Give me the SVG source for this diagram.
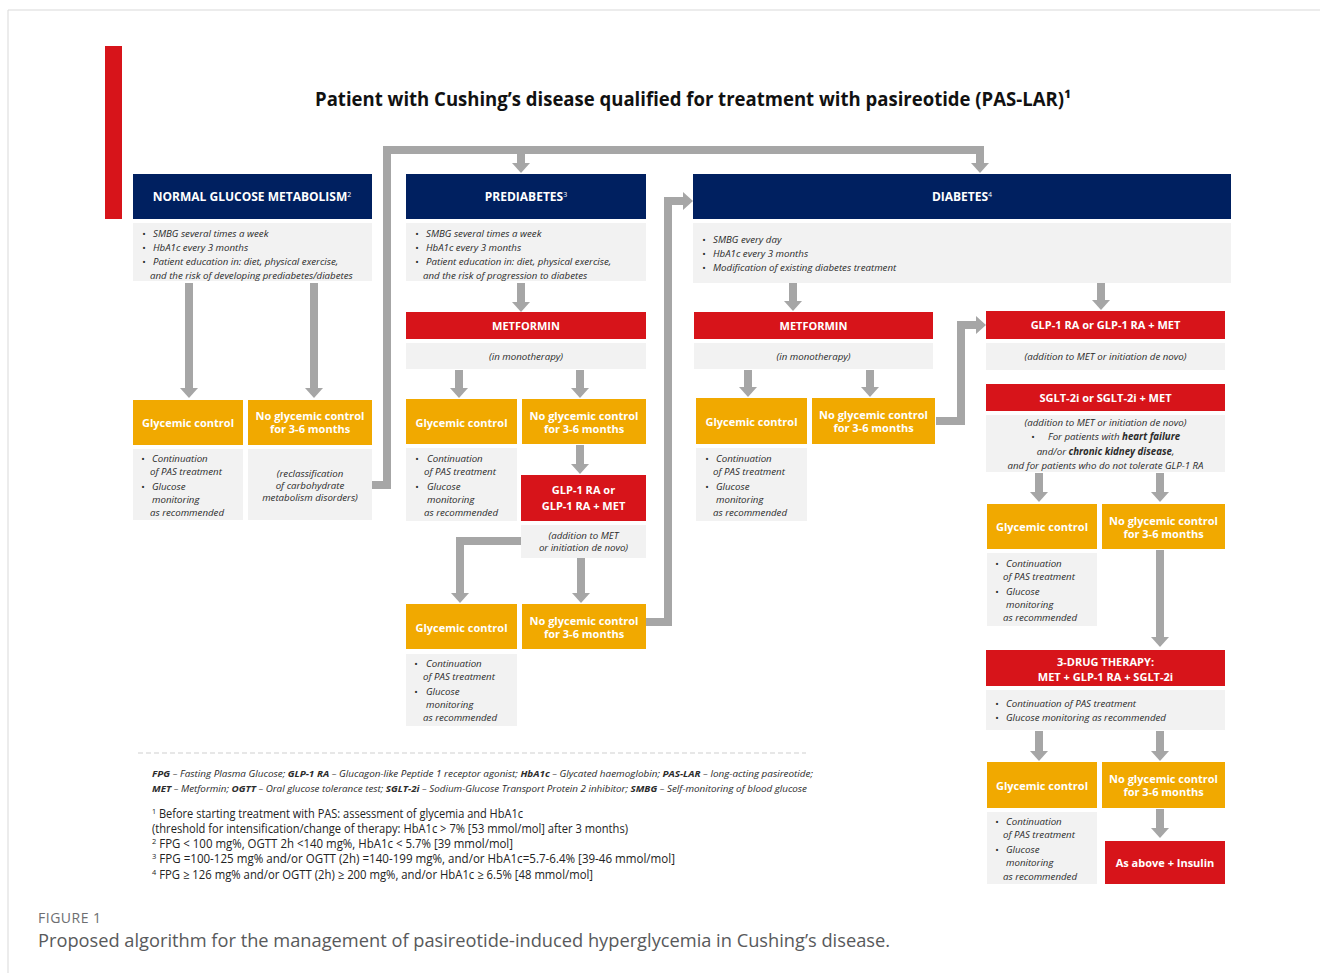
<svg xmlns="http://www.w3.org/2000/svg" width="1320" height="973" viewBox="0 0 1320 973">
  <style>
    .hdr { fill: #002060; }
    .red { fill: #d7141a; }
    .org { fill: #f1a900; }
    .gry { fill: #f2f2f2; }
    .conn { fill: none; stroke: #a6a6a6; stroke-width: 8; stroke-linejoin: miter; }
    text { font-family: "Open Sans", "Noto Sans", "Liberation Sans", sans-serif; }
    .th { font-size: 12px; font-weight: 700; fill: #ffffff; text-anchor: middle; }
    .sup { font-size: 7px; font-weight: 400; }
    .tb { font-size: 11px; font-weight: 700; fill: #ffffff; text-anchor: middle; }
    .it { font-size: 9.7px; font-style: italic; fill: #2b2b2b; }
    .itc { font-size: 9.7px; font-style: italic; fill: #2b2b2b; text-anchor: middle; }
    .b { font-weight: 700; }
    .ab { font-size: 9.6px; font-style: italic; fill: #2b2b2b; }
    .fn { font-size: 12.3px; fill: #222222; }
    .fs { font-size: 8px; }
  </style>
  <defs>
    <marker id="ah" markerUnits="userSpaceOnUse" viewBox="0 0 10 18" refX="0" refY="9" markerWidth="10" markerHeight="18" orient="auto">
      <path d="M0,0 L10,9 L0,18 Z" fill="#a6a6a6"/>
    </marker>
  </defs>

  <!-- page frame and accent bar -->
  <path d="M8,973 V10 H1320" fill="none" stroke="#d9d9d9" stroke-width="1"/>
  <rect x="105" y="46" width="17" height="173" fill="#d7141a"/>

  <!-- title -->
  <g id="title">
    <text x="315" y="106" font-size="19" font-weight="700" fill="#111111" textLength="756" lengthAdjust="spacingAndGlyphs">Patient with Cushing’s disease qualified for treatment with pasireotide (PAS-LAR)¹</text>
  </g>

  <!-- connectors -->
  <g id="connectors">
    <path class="conn" d="M189,283 V388" marker-end="url(#ah)"/>
    <path class="conn" d="M314,283 V388" marker-end="url(#ah)"/>
    <path class="conn" d="M370,485 H387 V150 H980 V163" marker-end="url(#ah)"/>
    <path class="conn" d="M521,150 V163" marker-end="url(#ah)"/>
    <path class="conn" d="M521,283 V302" marker-end="url(#ah)"/>
    <path class="conn" d="M459,370 V388" marker-end="url(#ah)"/>
    <path class="conn" d="M580,370 V388" marker-end="url(#ah)"/>
    <path class="conn" d="M580,445 V464" marker-end="url(#ah)"/>
    <path class="conn" d="M521,541 H460 V593" marker-end="url(#ah)"/>
    <path class="conn" d="M581,558 V593" marker-end="url(#ah)"/>
    <path class="conn" d="M646,622 H668 V201 H683" marker-end="url(#ah)"/>
    <path class="conn" d="M793,283 V301" marker-end="url(#ah)"/>
    <path class="conn" d="M748,370 V387" marker-end="url(#ah)"/>
    <path class="conn" d="M870,370 V387" marker-end="url(#ah)"/>
    <path class="conn" d="M936,421 H961 V325 H976" marker-end="url(#ah)"/>
    <path class="conn" d="M1101,283 V300" marker-end="url(#ah)"/>
    <path class="conn" d="M1039,473 V492" marker-end="url(#ah)"/>
    <path class="conn" d="M1160,473 V492" marker-end="url(#ah)"/>
    <path class="conn" d="M1160,550 V637" marker-end="url(#ah)"/>
    <path class="conn" d="M1039,731 V751" marker-end="url(#ah)"/>
    <path class="conn" d="M1160,731 V751" marker-end="url(#ah)"/>
    <path class="conn" d="M1160,809 V828" marker-end="url(#ah)"/>
  </g>

  <!-- column 1: normal glucose metabolism -->
  <g id="normal-header">
    <rect class="hdr" x="133" y="174" width="239" height="45"/>
    <text class="th" x="252" y="201">NORMAL GLUCOSE METABOLISM<tspan class="sup" dy="-4">2</tspan></text>
  </g>
  <g id="normal-info">
    <rect class="gry" x="133" y="223" width="239" height="58"/>
    <text class="it" x="142" y="237">•</text><text class="it" x="153" y="237">SMBG several times a week</text>
    <text class="it" x="142" y="251">•</text><text class="it" x="153" y="251">HbA1c every 3 months</text>
    <text class="it" x="142" y="265">•</text><text class="it" x="153" y="265">Patient education in: diet, physical exercise,</text>
    <text class="it" x="150" y="279">and the risk of developing prediabetes/diabetes</text>
  </g>
  <g id="normal-control">
    <rect class="org" x="133" y="400" width="110" height="45"/>
    <text class="tb" x="188" y="427">Glycemic control</text>
  </g>
  <g id="normal-control-note">
    <rect class="gry" x="133" y="449" width="110" height="71"/>
    <text class="it" x="141" y="462">•</text><text class="it" x="152" y="462">Continuation</text>
    <text class="it" x="150" y="475">of PAS treatment</text>
    <text class="it" x="141" y="490">•</text><text class="it" x="152" y="490">Glucose</text>
    <text class="it" x="152" y="503">monitoring</text>
    <text class="it" x="150" y="516">as recommended</text>
  </g>
  <g id="normal-nocontrol">
    <rect class="org" x="248" y="400" width="124" height="45"/>
    <text class="tb" x="310" y="420">No glycemic control</text>
    <text class="tb" x="310" y="433">for 3-6 months</text>
  </g>
  <g id="normal-nocontrol-note">
    <rect class="gry" x="248" y="449" width="124" height="71"/>
    <text class="itc" x="310" y="477">(reclassification</text>
    <text class="itc" x="310" y="489">of carbohydrate</text>
    <text class="itc" x="310" y="501">metabolism disorders)</text>
  </g>

  <!-- column 2: prediabetes -->
  <g id="pre-header">
    <rect class="hdr" x="406" y="174" width="240" height="45"/>
    <text class="th" x="526" y="201">PREDIABETES<tspan class="sup" dy="-4">3</tspan></text>
  </g>
  <g id="pre-info">
    <rect class="gry" x="406" y="223" width="240" height="58"/>
    <text class="it" x="415" y="237">•</text><text class="it" x="426" y="237">SMBG several times a week</text>
    <text class="it" x="415" y="251">•</text><text class="it" x="426" y="251">HbA1c every 3 months</text>
    <text class="it" x="415" y="265">•</text><text class="it" x="426" y="265">Patient education in: diet, physical exercise,</text>
    <text class="it" x="423" y="279">and the risk of progression to diabetes</text>
  </g>
  <g id="pre-metformin">
    <rect class="red" x="406" y="312" width="240" height="27"/>
    <text class="tb" x="526" y="330">METFORMIN</text>
  </g>
  <g id="pre-metformin-note">
    <rect class="gry" x="406" y="343" width="240" height="26"/>
    <text class="itc" x="526" y="360">(in monotherapy)</text>
  </g>
  <g id="pre-control">
    <rect class="org" x="406" y="399" width="111" height="45"/>
    <text class="tb" x="461.5" y="427">Glycemic control</text>
  </g>
  <g id="pre-control-note">
    <rect class="gry" x="406" y="448" width="111" height="73"/>
    <text class="it" x="415" y="462">•</text><text class="it" x="427" y="462">Continuation</text>
    <text class="it" x="424" y="475">of PAS treatment</text>
    <text class="it" x="415" y="490">•</text><text class="it" x="427" y="490">Glucose</text>
    <text class="it" x="427" y="503">monitoring</text>
    <text class="it" x="424" y="516">as recommended</text>
  </g>
  <g id="pre-nocontrol">
    <rect class="org" x="522" y="399" width="124" height="45"/>
    <text class="tb" x="584" y="420">No glycemic control</text>
    <text class="tb" x="584" y="433">for 3-6 months</text>
  </g>
  <g id="pre-glp1">
    <rect class="red" x="521" y="475" width="125" height="46"/>
    <text class="tb" x="583.5" y="494">GLP-1 RA or</text>
    <text class="tb" x="583.5" y="510">GLP-1 RA + MET</text>
  </g>
  <g id="pre-glp1-note">
    <rect class="gry" x="521" y="525" width="125" height="33"/>
    <text class="itc" x="583.5" y="539">(addition to MET</text>
    <text class="itc" x="583.5" y="551">or initiation de novo)</text>
  </g>
  <g id="pre-control-2">
    <rect class="org" x="406" y="604" width="111" height="45"/>
    <text class="tb" x="461.5" y="632">Glycemic control</text>
  </g>
  <g id="pre-control-2-note">
    <rect class="gry" x="406" y="654" width="111" height="72"/>
    <text class="it" x="414" y="667">•</text><text class="it" x="426" y="667">Continuation</text>
    <text class="it" x="423" y="680">of PAS treatment</text>
    <text class="it" x="414" y="695">•</text><text class="it" x="426" y="695">Glucose</text>
    <text class="it" x="426" y="708">monitoring</text>
    <text class="it" x="423" y="721">as recommended</text>
  </g>
  <g id="pre-nocontrol-2">
    <rect class="org" x="522" y="604" width="124" height="45"/>
    <text class="tb" x="584" y="625">No glycemic control</text>
    <text class="tb" x="584" y="638">for 3-6 months</text>
  </g>

  <!-- column 3: diabetes -->
  <g id="dia-header">
    <rect class="hdr" x="693" y="174" width="538" height="45"/>
    <text class="th" x="962" y="201">DIABETES<tspan class="sup" dy="-4">4</tspan></text>
  </g>
  <g id="dia-info">
    <rect class="gry" x="693" y="223" width="538" height="60"/>
    <text class="it" x="702" y="243">•</text><text class="it" x="713" y="243">SMBG every day</text>
    <text class="it" x="702" y="257">•</text><text class="it" x="713" y="257">HbA1c every 3 months</text>
    <text class="it" x="702" y="271">•</text><text class="it" x="713" y="271">Modification of existing diabetes treatment</text>
  </g>
  <g id="dia-metformin">
    <rect class="red" x="694" y="312" width="239" height="27"/>
    <text class="tb" x="813.5" y="330">METFORMIN</text>
  </g>
  <g id="dia-metformin-note">
    <rect class="gry" x="694" y="343" width="239" height="26"/>
    <text class="itc" x="813.5" y="360">(in monotherapy)</text>
  </g>
  <g id="dia-control">
    <rect class="org" x="696" y="398" width="111" height="46"/>
    <text class="tb" x="751.5" y="426">Glycemic control</text>
  </g>
  <g id="dia-control-note">
    <rect class="gry" x="696" y="448" width="111" height="73"/>
    <text class="it" x="705" y="462">•</text><text class="it" x="716" y="462">Continuation</text>
    <text class="it" x="713" y="475">of PAS treatment</text>
    <text class="it" x="705" y="490">•</text><text class="it" x="716" y="490">Glucose</text>
    <text class="it" x="716" y="503">monitoring</text>
    <text class="it" x="713" y="516">as recommended</text>
  </g>
  <g id="dia-nocontrol">
    <rect class="org" x="812" y="398" width="123" height="46"/>
    <text class="tb" x="873.5" y="419">No glycemic control</text>
    <text class="tb" x="873.5" y="432">for 3-6 months</text>
  </g>
  <g id="dia-glp1">
    <rect class="red" x="986" y="311" width="239" height="28"/>
    <text class="tb" x="1105.5" y="329">GLP-1 RA or GLP-1 RA + MET</text>
  </g>
  <g id="dia-glp1-note">
    <rect class="gry" x="986" y="343" width="239" height="27"/>
    <text class="itc" x="1105.5" y="360">(addition to MET or initiation de novo)</text>
  </g>
  <g id="dia-sglt2">
    <rect class="red" x="986" y="384" width="239" height="27"/>
    <text class="tb" x="1105.5" y="402">SGLT-2i or SGLT-2i + MET</text>
  </g>
  <g id="dia-sglt2-note">
    <rect class="gry" x="986" y="415" width="239" height="57"/>
    <text class="itc" x="1105.5" y="426">(addition to MET or initiation de novo)</text>
    <text class="it" x="1031" y="440">•</text><text class="it" x="1048" y="440">For patients with <tspan class="b">heart failure</tspan></text>
    <text class="itc" x="1105.5" y="455">and/or <tspan class="b">chronic kidney disease</tspan>,</text>
    <text class="itc" x="1105.5" y="469">and for patients who do not tolerate GLP-1 RA</text>
  </g>
  <g id="dia-control-2">
    <rect class="org" x="987" y="504" width="110" height="45"/>
    <text class="tb" x="1042" y="531">Glycemic control</text>
  </g>
  <g id="dia-control-2-note">
    <rect class="gry" x="987" y="553" width="110" height="73"/>
    <text class="it" x="995" y="567">•</text><text class="it" x="1006" y="567">Continuation</text>
    <text class="it" x="1003" y="580">of PAS treatment</text>
    <text class="it" x="995" y="595">•</text><text class="it" x="1006" y="595">Glucose</text>
    <text class="it" x="1006" y="608">monitoring</text>
    <text class="it" x="1003" y="621">as recommended</text>
  </g>
  <g id="dia-nocontrol-2">
    <rect class="org" x="1102" y="504" width="123" height="45"/>
    <text class="tb" x="1163.5" y="525">No glycemic control</text>
    <text class="tb" x="1163.5" y="538">for 3-6 months</text>
  </g>
  <g id="dia-triple">
    <rect class="red" x="986" y="650" width="239" height="36"/>
    <text class="tb" x="1105.5" y="666">3-DRUG THERAPY:</text>
    <text class="tb" x="1105.5" y="681">MET + GLP-1 RA + SGLT-2i</text>
  </g>
  <g id="dia-triple-note">
    <rect class="gry" x="986" y="690" width="239" height="40"/>
    <text class="it" x="995" y="707">•</text><text class="it" x="1006" y="707">Continuation of PAS treatment</text>
    <text class="it" x="995" y="721">•</text><text class="it" x="1006" y="721">Glucose monitoring as recommended</text>
  </g>
  <g id="dia-control-3">
    <rect class="org" x="987" y="762" width="110" height="46"/>
    <text class="tb" x="1042" y="790">Glycemic control</text>
  </g>
  <g id="dia-control-3-note">
    <rect class="gry" x="987" y="812" width="110" height="72"/>
    <text class="it" x="995" y="825">•</text><text class="it" x="1006" y="825">Continuation</text>
    <text class="it" x="1003" y="838">of PAS treatment</text>
    <text class="it" x="995" y="853">•</text><text class="it" x="1006" y="853">Glucose</text>
    <text class="it" x="1006" y="866">monitoring</text>
    <text class="it" x="1003" y="880">as recommended</text>
  </g>
  <g id="dia-nocontrol-3">
    <rect class="org" x="1102" y="762" width="123" height="46"/>
    <text class="tb" x="1163.5" y="783">No glycemic control</text>
    <text class="tb" x="1163.5" y="796">for 3-6 months</text>
  </g>
  <g id="dia-insulin">
    <rect class="red" x="1105" y="841" width="120" height="43"/>
    <text class="tb" x="1165" y="867">As above + Insulin</text>
  </g>

  <!-- abbreviations and footnotes -->
  <g id="notes">
    <line x1="138" y1="753" x2="806" y2="753" stroke="#cfcfcf" stroke-width="1" stroke-dasharray="5 3"/>
    <text class="ab" x="152" y="777" textLength="661" lengthAdjust="spacingAndGlyphs"><tspan class="b">FPG</tspan> – Fasting Plasma Glucose; <tspan class="b">GLP-1 RA</tspan> – Glucagon-like Peptide 1 receptor agonist; <tspan class="b">HbA1c</tspan> – Glycated haemoglobin; <tspan class="b">PAS-LAR</tspan> – long-acting pasireotide;</text>
    <text class="ab" x="152" y="792" textLength="655" lengthAdjust="spacingAndGlyphs"><tspan class="b">MET</tspan> – Metformin; <tspan class="b">OGTT</tspan> – Oral glucose tolerance test; <tspan class="b">SGLT-2i</tspan> – Sodium-Glucose Transport Protein 2 inhibitor; <tspan class="b">SMBG</tspan> – Self-monitoring of blood glucose</text>
    <text class="fn" x="152" y="818" textLength="371" lengthAdjust="spacingAndGlyphs"><tspan class="fs" dy="-4">1</tspan><tspan dy="4"> Before starting treatment with PAS: assessment of glycemia and HbA1c</tspan></text>
    <text class="fn" x="152" y="833" textLength="476" lengthAdjust="spacingAndGlyphs">(threshold for intensification/change of therapy: HbA1c &gt; 7% [53 mmol/mol] after 3 months)</text>
    <text class="fn" x="152" y="848" textLength="361" lengthAdjust="spacingAndGlyphs"><tspan class="fs" dy="-4">2</tspan><tspan dy="4"> FPG &lt; 100 mg%, OGTT 2h &lt;140 mg%, HbA1c &lt; 5.7% [39 mmol/mol]</tspan></text>
    <text class="fn" x="152" y="863" textLength="523" lengthAdjust="spacingAndGlyphs"><tspan class="fs" dy="-4">3</tspan><tspan dy="4"> FPG =100-125 mg% and/or  OGTT (2h) =140-199 mg%, and/or  HbA1c=5.7-6.4% [39-46 mmol/mol]</tspan></text>
    <text class="fn" x="152" y="879" textLength="441" lengthAdjust="spacingAndGlyphs"><tspan class="fs" dy="-4">4</tspan><tspan dy="4"> FPG ≥ 126 mg% and/or OGTT (2h) ≥ 200 mg%, and/or HbA1c ≥ 6.5% [48 mmol/mol]</tspan></text>
  </g>

  <!-- caption -->
  <g id="caption">
    <text x="38" y="923" font-size="14" fill="#6d6e71" letter-spacing="0.5">FIGURE 1</text>
    <text x="38" y="947" font-size="18" fill="#58595b" textLength="852" lengthAdjust="spacingAndGlyphs">Proposed algorithm for the management of pasireotide-induced hyperglycemia in Cushing’s disease.</text>
  </g>
</svg>
